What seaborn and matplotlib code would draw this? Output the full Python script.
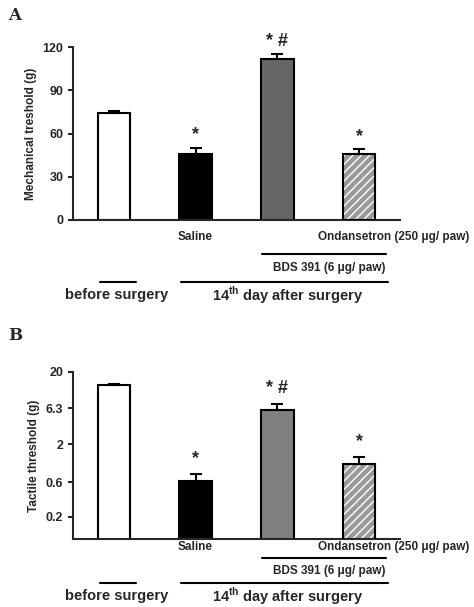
import matplotlib
matplotlib.use("Agg")
import matplotlib.pyplot as plt
import matplotlib.transforms as mtrans
import seaborn as sns
import pandas as pd
import numpy as np

sns.set_style("ticks")
plt.rcParams['font.family'] = ['Liberation Sans', 'DejaVu Sans']
plt.rcParams['font.weight'] = 'bold'

groups = ["before", "saline", "bds", "ondansetron"]
mech_mean = [74, 46, 112, 46]
mech_err = [1.5, 4, 3, 3]
tact_mean = [13.2, 0.62, 6.0, 1.06]
tact_err = [0.4, 0.15, 1.2, 0.29]
marks = ["", "*", "* #", "*"]
colors_a = ["white", "black", "#666666", "#999999"]
colors_b = ["white", "black", "#808080", "#999999"]

fig = plt.figure(figsize=(4.74, 6.07), dpi=100)
H = 607.0

def draw(ax, means, errs, log, colors):
    df = pd.DataFrame({"g": groups, "v": means})
    sns.barplot(data=df, x="g", y="v", hue="g", palette=colors, width=0.4,
                edgecolor="black", linewidth=1.5, legend=False, ax=ax, saturation=1)
    p = ax.patches[3]
    p.set_hatch("////"); p.set_edgecolor("white"); p.set_linewidth(0)
    ax.bar(3, means[3], width=0.4, fill=False, edgecolor="black", linewidth=1.5, zorder=3)
    x = np.arange(4)
    ax.errorbar(x, means, yerr=[np.zeros(4), errs], fmt="none", ecolor="black",
                elinewidth=1.5, capsize=4, capthick=1.5, zorder=4)
    for i, m in enumerate(marks):
        if m:
            top = means[i] + errs[i]
            yy = top * 1.25 if log else top + 3
            ax.text(i, yy, m, ha="center", va="bottom", fontsize=13, fontweight="bold")
    ax.set_xlim(-0.5, 3.5)
    ax.set_xticks([])
    ax.set_xlabel("")
    sns.despine(ax=ax)
    for s in ax.spines.values():
        s.set_linewidth(1.5)
    ax.tick_params(width=1.5, labelsize=9)

def labels(ax, base):
    tr = mtrans.blended_transform_factory(ax.transData, fig.transFigure)
    fy = lambda py: 1 - py / H
    kw = dict(transform=tr, fontsize=8.5, fontweight="bold", va="center")
    o = base
    ax.text(1, fy(o[0]), "Saline", ha="center", **kw)
    ax.text(2.5, fy(o[0]), "Ondansetron (250 \u03bcg/ paw)", ha="left", **kw)
    ax.plot([1.81, 3.33], [fy(o[1])] * 2, transform=tr, color="black", lw=1.5, clip_on=False)
    ax.text(2.64, fy(o[2]), "BDS 391 (6 \u03bcg/ paw)", ha="center", **kw)
    ax.plot([-0.17, 0.27], [fy(o[3])] * 2, transform=tr, color="black", lw=1.5, clip_on=False)
    ax.plot([0.82, 3.35], [fy(o[3])] * 2, transform=tr, color="black", lw=1.5, clip_on=False)
    kw2 = dict(kw); kw2["fontsize"] = 10.5
    ax.text(0.03, fy(o[4]), "before surgery", ha="center", **kw2)
    ax.text(2.13, fy(o[4]), "14$^{\\mathregular{th}}$ day after surgery", ha="center", **kw2)

axA = fig.add_axes([73 / 474, 1 - 220 / H, 327 / 474, 173 / H])
draw(axA, mech_mean, mech_err, False, colors_a)
axA.set_ylim(0, 120)
axA.set_yticks([0, 30, 60, 90, 120])
axA.set_ylabel("Mechanical treshold (g)", fontsize=8.5, fontweight="bold")
labels(axA, [237, 254, 268, 282, 295])

axB = fig.add_axes([73 / 474, 1 - 539 / H, 327 / 474, 167 / H])
draw(axB, tact_mean, tact_err, True, colors_b)
axB.set_yscale("log")
axB.set_ylim(0.098, 20)
axB.set_yticks([0.2, 0.6, 2, 6.3, 20])
axB.set_yticklabels(["0.2", "0.6", "2", "6.3", "20"])
axB.minorticks_off()
axB.set_ylabel("Tactile threshold (g)", fontsize=8.5, fontweight="bold")
labels(axB, [547, 558, 571, 583, 596])

fig.text(8 / 474, 1 - 15 / H, "A", family="DejaVu Serif", fontsize=12, fontweight="bold", va="center")
fig.text(8 / 474, 1 - 336 / H, "B", family="DejaVu Serif", fontsize=12, fontweight="bold", va="center")

fig.savefig("out.png", dpi=100)
